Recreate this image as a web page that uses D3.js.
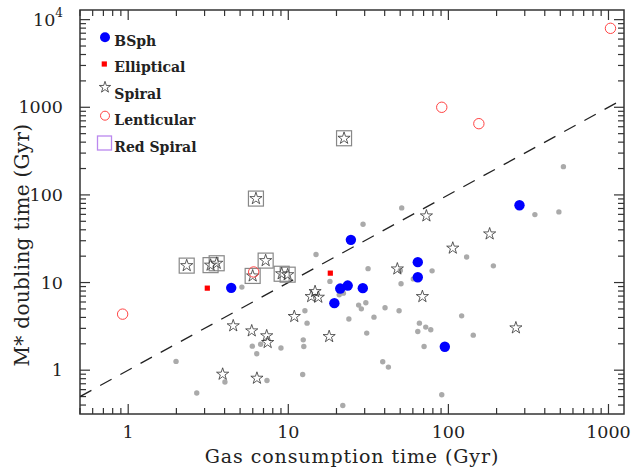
<!DOCTYPE html>
<html>
<head>
<meta charset="utf-8">
<script src="https://cdn.jsdelivr.net/npm/d3@7"></script>
<style>
  html, body { margin: 0; padding: 0; background: #fff; }
  svg { display: block; }
</style>
</head>
<body>
<svg id="chart" width="634" height="468"></svg>
<script>
// ---------------- DATA ----------------
const xTickValues = [1, 10, 100, 1000];
const xTickLabels = ["1", "10", "100", "1000"];
const yTickValues = [1, 10, 100, 1000, 10000];
const yTickLabels = ["1", "10", "100", "1000", "10^4"];

const legendLabels = ["BSph", "Elliptical", "Spiral", "Lenticular", "Red Spiral"];

// Other galaxies (grey dots)
const otherX = [1.99, 2.68, 4.02, 5.13, 5.96, 6.35, 6.72, 7.36, 9.0, 12.3, 12.4, 12.5, 12.7, 13.1, 14.9, 18.2, 20.8, 22.1, 21.9, 23.9, 27.5, 28.6, 30.5, 30.9, 31.5, 29.3, 34.3, 40.2, 38.9, 42.2, 49.2, 50.1, 50.6, 51.1, 60.4, 64.4, 65.9, 70.5, 72.2, 77.6, 79.1, 90.9, 121, 130, 143, 191, 347, 490, 523];
const otherY = [1.26, 0.548, 0.732, 8.87, 1.88, 1.54, 1.98, 0.763, 1.79, 0.893, 2.22, 1.86, 4.76, 3.44, 20.9, 10.3, 7.24, 7.57, 0.396, 3.83, 5.53, 5.01, 5.87, 2.65, 14.4, 46.3, 4.03, 5.15, 1.25, 1.085, 4.76, 13.7, 9.67, 71.1, 11.0, 2.76, 3.44, 1.86, 3.10, 2.89, 13.6, 0.524, 4.17, 19.6, 2.51, 15.5, 59.6, 64.0, 210];

// BSph (blue filled circles)
const bsphX = [4.40, 19.4, 21.1, 23.5, 24.6, 29.2, 64.4, 64.4, 95, 278];
const bsphY = [8.7, 5.82, 8.54, 9.24, 30.7, 8.63, 17.1, 11.5, 1.85, 76.3];

// Elliptical (red squares)
const ellX = [3.12, 18.3];
const ellY = [8.63, 12.8];

// Spiral (open stars)
const spiralX = [4.53, 5.91, 7.33, 7.43, 3.89, 6.37, 10.9, 13.9, 14.7, 15.4, 18.0, 72.9, 106.5, 48, 68.8, 181, 264,
                 2.32, 3.27, 3.57, 5.99, 7.22, 9.09, 9.91, 22.3, 6.28];
const spiralY = [3.21, 2.81, 2.47, 2.07, 0.90, 0.81, 4.10, 6.92, 7.89, 6.8, 2.42, 57.6, 24.7, 14.3, 6.92, 35.9, 3.04,
                 15.6, 15.8, 16.6, 11.9, 17.8, 12.6, 12.3, 443, 90.8];

// Lenticular (open red circles)
const lentX = [0.923, 6.08, 90.9, 155, 1029];
const lentY = [4.36, 13.2, 1000, 650, 7960];

// Red spirals (boxes)
const redSpX = [2.32, 3.27, 3.57, 5.99, 7.22, 9.09, 9.91, 22.3, 6.28];
const redSpY = [15.6, 15.8, 16.6, 11.9, 17.8, 12.6, 12.3, 443, 90.8];

// 1:1 reference line
const lineX = [0.5, 1250];

// ---------------- CHART ----------------
const svg = d3.select("#chart");
const L = 80, R = 624, T = 10, B = 414;
const x = d3.scaleLog().domain([0.5, 1250]).range([L, R]);
const y = d3.scaleLog().domain([Math.pow(10, -0.5), Math.pow(10, 4.11)]).range([B, T]);

const axisColor = "#333";
const fontFam = "'DejaVu Serif', serif";

svg.append("defs").append("clipPath").attr("id", "clip")
  .append("rect").attr("x", L).attr("y", T).attr("width", R - L).attr("height", B - T);

function logTicks(domain) {
  const out = [];
  const lo = Math.floor(Math.log10(domain[0])), hi = Math.ceil(Math.log10(domain[1]));
  for (let e = lo; e <= hi; e++) {
    for (let m = 1; m <= 9; m++) {
      const v = m * Math.pow(10, e);
      if (v >= domain[0] * 0.9999 && v <= domain[1] * 1.0001) out.push({v: v, major: m === 1});
    }
  }
  return out;
}
const xt = logTicks(x.domain());
const yt = logTicks(y.domain());
const MAJ = 10, MIN = 6;

const axes = svg.append("g");
axes.append("rect").attr("x", L).attr("y", T).attr("width", R - L).attr("height", B - T)
  .attr("fill", "none").attr("stroke", axisColor).attr("stroke-width", 1.5);

const xg = axes.append("g");
xt.forEach(t => {
  const px = x(t.v), len = t.major ? MAJ : MIN;
  xg.append("line").attr("x1", px).attr("x2", px).attr("y1", B).attr("y2", B - len)
    .attr("stroke", axisColor).attr("stroke-width", 1.2);
  xg.append("line").attr("x1", px).attr("x2", px).attr("y1", T).attr("y2", T + len)
    .attr("stroke", axisColor).attr("stroke-width", 1.2);
});
const yg = axes.append("g");
yt.forEach(t => {
  const py = y(t.v), len = t.major ? MAJ : MIN;
  yg.append("line").attr("x1", L).attr("x2", L + len).attr("y1", py).attr("y2", py)
    .attr("stroke", axisColor).attr("stroke-width", 1.2);
  yg.append("line").attr("x1", R).attr("x2", R - len).attr("y1", py).attr("y2", py)
    .attr("stroke", axisColor).attr("stroke-width", 1.2);
});

xTickValues.forEach((v, i) => {
  axes.append("text").attr("x", x(v)).attr("y", B + 24)
    .attr("text-anchor", "middle").attr("font-family", fontFam).attr("font-size", 17.5)
    .attr("fill", "#222").text(xTickLabels[i]);
});
yTickValues.forEach((v, i) => {
  const lab = yTickLabels[i];
  const t = axes.append("text").attr("x", L - 17).attr("y", y(v) + 6)
    .attr("text-anchor", "end").attr("font-family", fontFam).attr("font-size", 17.5)
    .attr("fill", "#222");
  if (lab.indexOf("^") >= 0) {
    const parts = lab.split("^");
    t.append("tspan").text(parts[0]);
    t.append("tspan").attr("dy", -9).attr("font-size", 12).text(parts[1]);
  } else {
    t.text(lab);
  }
});

axes.append("text").attr("x", (L + R) / 2).attr("y", 463)
  .attr("text-anchor", "middle").attr("font-family", fontFam).attr("font-size", 19)
  .attr("letter-spacing", 0.9).attr("fill", "#222").text("Gas consumption time (Gyr)");
axes.append("text").attr("transform", "translate(29,245) rotate(-90)")
  .attr("text-anchor", "middle").attr("font-family", fontFam).attr("font-size", 20)
  .attr("letter-spacing", 0.3).attr("fill", "#222").text("M* doubling time (Gyr)");

const plot = svg.append("g").attr("clip-path", "url(#clip)");

plot.append("line")
  .attr("x1", x(lineX[0])).attr("y1", y(lineX[0]))
  .attr("x2", x(lineX[1])).attr("y2", y(lineX[1]))
  .attr("stroke", "#222").attr("stroke-width", 1.3).attr("stroke-dasharray", "13,10");

plot.selectAll("circle.other").data(d3.zip(otherX, otherY)).join("circle")
  .attr("class", "other").attr("cx", d => x(d[0])).attr("cy", d => y(d[1])).attr("r", 2.7)
  .attr("fill", "#aaaaaa");

const BOX = 15;
plot.selectAll("rect.redsp").data(d3.zip(redSpX, redSpY)).join("rect")
  .attr("class", "redsp").attr("x", d => x(d[0]) - BOX / 2).attr("y", d => y(d[1]) - BOX / 2)
  .attr("width", BOX).attr("height", BOX)
  .attr("fill", "none").attr("stroke", "#888").attr("stroke-width", 1.2);

const star = d3.symbol().type(d3.symbolStar).size(46);
plot.selectAll("path.spiral").data(d3.zip(spiralX, spiralY)).join("path")
  .attr("class", "spiral").attr("d", star)
  .attr("transform", d => `translate(${x(d[0])},${y(d[1])})`)
  .attr("fill", "none").attr("stroke", "#333").attr("stroke-width", 0.8);

plot.selectAll("circle.bsph").data(d3.zip(bsphX, bsphY)).join("circle")
  .attr("class", "bsph").attr("cx", d => x(d[0])).attr("cy", d => y(d[1])).attr("r", 5.2)
  .attr("fill", "#0000ff");

plot.selectAll("rect.ell").data(d3.zip(ellX, ellY)).join("rect")
  .attr("class", "ell").attr("x", d => x(d[0]) - 2.6).attr("y", d => y(d[1]) - 2.6)
  .attr("width", 5.2).attr("height", 5.2).attr("fill", "#ff0000");

plot.selectAll("circle.lent").data(d3.zip(lentX, lentY)).join("circle")
  .attr("class", "lent").attr("cx", d => x(d[0])).attr("cy", d => y(d[1])).attr("r", 5.2)
  .attr("fill", "none").attr("stroke", "#ff4444").attr("stroke-width", 1);

// ---------------- LEGEND ----------------
const lg = svg.append("g");
const lgBase = [45.7, 72.3, 99, 125, 151.5];
const lgMark = [37.3, 64, 87.3, 115.7, 143];
lg.append("circle").attr("cx", 105).attr("cy", lgMark[0]).attr("r", 5).attr("fill", "#0000ff");
lg.append("rect").attr("x", 104.3 - 2.6).attr("y", lgMark[1] - 2.6).attr("width", 5.2).attr("height", 5.2).attr("fill", "#ff0000");
lg.append("path").attr("d", d3.symbol().type(d3.symbolStar).size(40)())
  .attr("transform", `translate(105,${lgMark[2]})`).attr("fill", "none").attr("stroke", "#333").attr("stroke-width", 0.8);
lg.append("circle").attr("cx", 105).attr("cy", lgMark[3]).attr("r", 4.5).attr("fill", "none").attr("stroke", "#ff4444").attr("stroke-width", 1);
lg.append("rect").attr("x", 97.5).attr("y", 136).attr("width", 14).attr("height", 14)
  .attr("fill", "none").attr("stroke", "#bb88ee").attr("stroke-width", 1.3);
legendLabels.forEach((lab, i) => {
  lg.append("text").attr("x", 114.3).attr("y", lgBase[i])
    .attr("font-family", fontFam).attr("font-weight", "bold").attr("font-size", 14)
    .attr("fill", "#222").text(lab);
});
</script>
</body>
</html>
